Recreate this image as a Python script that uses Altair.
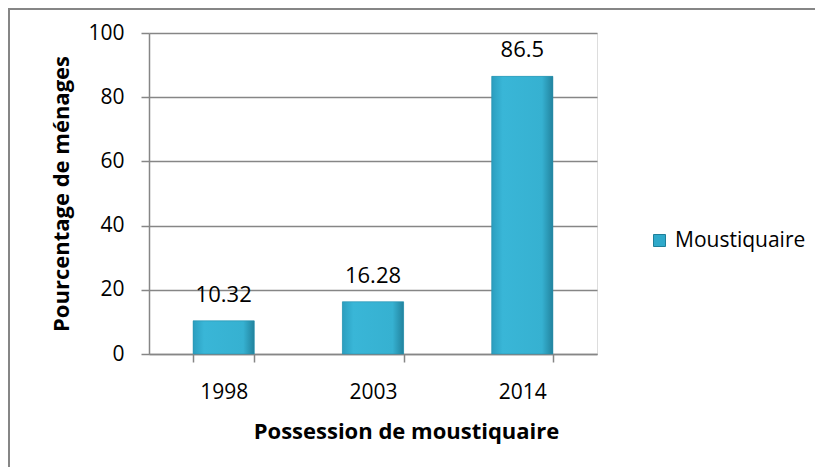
import altair as alt
import pandas as pd

years = ["1998", "2003", "2014"]
values = [10.32, 16.28, 86.5]
series = ["Moustiquaire"] * 3

df = pd.DataFrame({"annee": years, "pct": values, "serie": series})

FONT = "Open Sans"
GRAY = "#868686"
W, H = 448, 321

base = alt.Chart(df)

x_enc = alt.X(
    "annee:N",
    sort=years,
    scale=alt.Scale(paddingInner=0.59, paddingOuter=0.295),
    axis=alt.Axis(
        title="Possession de moustiquaire",
        labelAngle=0,
        tickBand="extent",
        tickSize=8,
        tickColor=GRAY,
        tickWidth=1.5,
        domainColor=GRAY,
        domainWidth=1.5,
        labelFont=FONT,
        labelFontSize=21,
        labelColor="#000000",
        labelPadding=19,
        titleFont=FONT,
        titleFontSize=22,
        titleFontWeight="bold",
        titleColor="#000000",
        titleX=257,
        titleY=84,
        titleAlign="center",
        titleBaseline="alphabetic",
        grid=False,
    ),
)

y_enc = alt.Y(
    "pct:Q",
    scale=alt.Scale(domain=[0, 100]),
    axis=alt.Axis(
        title="Pourcentage de ménages",
        values=[0, 20, 40, 60, 80, 100],
        tickSize=8,
        tickColor=GRAY,
        tickWidth=1.5,
        domainColor=GRAY,
        domainWidth=1.5,
        grid=True,
        gridColor=GRAY,
        gridWidth=1.5,
        labelFont=FONT,
        labelFontSize=21,
        labelColor="#000000",
        labelPadding=17,
        titleFont=FONT,
        titleFontSize=22,
        titleFontWeight="bold",
        titleColor="#000000",
        titleAngle=-90,
        titleX=-88,
        titleY=H / 2,
        titleAlign="center",
        titleBaseline="middle",
    ),
)

legend_bars = base.mark_bar().encode(
    x=x_enc,
    y=y_enc,
    color=alt.Color(
        "serie:N",
        scale=alt.Scale(range=["#2fa9ca"]),
        legend=alt.Legend(
            title=None,
            orient="none",
            legendX=500,
            legendY=197,
            padding=0,
            symbolType="square",
            symbolSize=144,
            symbolStrokeColor="#1f7f99",
            symbolStrokeWidth=1,
            symbolOpacity=1,
            labelFont=FONT,
            labelFontSize=21,
            labelColor="#000000",
            labelOffset=5,
        ),
    ),
)

grad = alt.Gradient(
    gradient="linear",
    x1=0, x2=1, y1=0, y2=0,
    stops=[
        alt.GradientStop(color="#2b9ebf", offset=0),
        alt.GradientStop(color="#39b6d7", offset=0.18),
        alt.GradientStop(color="#36b1d1", offset=0.82),
        alt.GradientStop(color="#22839e", offset=1),
    ],
)

grad_bars = base.mark_bar(color=grad, stroke="#2a8fab", strokeWidth=0.5).encode(
    x=alt.X("annee:N", sort=years),
    y=alt.Y("pct:Q"),
)

labels = base.mark_text(
    font=FONT, fontSize=22, color="#000000", baseline="alphabetic", dy=-19
).encode(
    x=alt.X("annee:N", sort=years),
    y=alt.Y("pct:Q"),
    text=alt.Text("pct:Q"),
)

border = alt.Chart(pd.DataFrame({"k": [0]})).mark_rect(
    fill="transparent", stroke=GRAY, strokeWidth=2
).encode(
    x=alt.value(-140), x2=alt.value(700), y=alt.value(-24), y2=alt.value(520)
)

chart = (
    alt.layer(legend_bars, grad_bars, labels, border)
    .properties(
        width=W,
        height=H,
        autosize=alt.AutoSizeParams(type="none"),
        padding={"left": 141, "top": 25, "right": 218, "bottom": 113},
    )
    .configure_view(stroke=None)
    .configure(background="white")
)

chart.save("out.html", embed_options={"renderer": "svg", "actions": False})
